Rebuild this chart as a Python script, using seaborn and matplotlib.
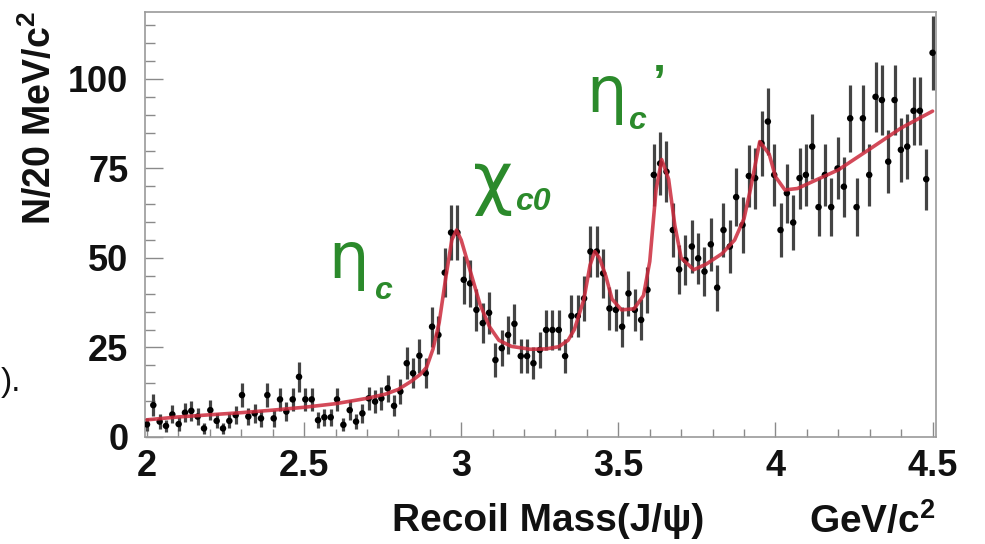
import numpy as np
import pandas as pd
import matplotlib
matplotlib.use("Agg")
import matplotlib.pyplot as plt
import seaborn as sns
from matplotlib.ticker import FixedLocator, FixedFormatter, MultipleLocator

# ---- data: events per 20 MeV/c^2 bin, recoil mass 2.0 - 4.5 GeV/c^2 ----
counts = [
    3.5, 8.9, 4.3, 3.1, 6.3, 3.6, 6.8, 7.3, 5.7, 2.4,
    7.5, 4.5, 2.4, 4.5, 6.1, 11.7, 5.7, 6.6, 5.2, 11.7,
    5.2, 10.5, 7.1, 10.5, 16.8, 10.5, 10.5, 4.7, 5.5, 5.5,
    10.5, 3.4, 7.5, 4.3, 6.6, 10.8, 9.9, 10.8, 13.6, 8.7,
    12.7, 20.6, 17.8, 22.7, 17.8, 30.8, 28.5, 45.9, 57.1, 57.1,
    43.9, 42.9, 35.5, 31.8, 34.7, 21.5, 24.8, 28.5, 31.6, 22.6,
    22.6, 20.6, 24.3, 29.9, 29.9, 29.9, 22.6, 33.8, 33.8, 38.7,
    51.8, 51.8, 45.7, 35.9, 35.5, 30.8, 40.1, 35.5, 32.7, 41.1,
    73.2, 76.4, 74.1, 57.8, 46.8, 49.4, 53.2, 49.9, 46.2, 53.8,
    41.7, 57.8, 53.2, 67.0, 59.2, 72.9, 72.3, 82.0, 88.1, 73.2,
    57.8, 68.1, 59.9, 72.3, 73.2, 81.1, 64.2, 73.2, 64.2, 75.0,
    69.9, 89.0, 64.2, 89.0, 73.2, 95.0, 94.1, 76.9, 94.1, 80.2,
    81.1, 91.1, 91.1, 72.0, 107.3,
]
mass_min, mass_max = 2.0, 4.5

# ---- fit curve ----
fit_x = [2.00, 2.10, 2.20, 2.30, 2.40, 2.50, 2.60, 2.70, 2.76, 2.80,
         2.84, 2.87, 2.89, 2.91, 2.93, 2.95, 2.97, 2.985, 3.00, 3.02,
         3.04, 3.06, 3.09, 3.12, 3.16, 3.22, 3.27, 3.31, 3.34, 3.36,
         3.39, 3.41, 3.425, 3.44, 3.46, 3.48, 3.51, 3.55, 3.58, 3.60,
         3.62, 3.638, 3.66, 3.68, 3.70, 3.74, 3.78, 3.83, 3.87, 3.90,
         3.92, 3.95, 3.98, 4.00, 4.03, 4.07, 4.10, 4.20, 4.30, 4.40, 4.50]
fit_y = [4.8, 5.6, 6.2, 6.8, 7.5, 8.3, 9.3, 10.8, 12.0, 13.3,
         15.5, 17.5, 19.5, 24.5, 32.0, 44.0, 55.0, 57.8, 55.0, 49.0,
         43.0, 37.0, 30.8, 27.0, 25.3, 24.5, 24.6, 25.2, 27.0, 30.0,
         38.3, 48.0, 51.8, 50.0, 45.0, 38.5, 35.5, 35.8, 39.5, 49.0,
         69.0, 77.5, 72.0, 59.0, 50.0, 46.7, 48.3, 51.2, 55.0, 61.0,
         69.0, 82.5, 79.0, 72.7, 69.0, 69.4, 70.6, 74.6, 80.4, 86.3, 91.0]

x_ticks = [2.0, 2.5, 3.0, 3.5, 4.0, 4.5]
x_tick_labels = ["2", "2.5", "3", "3.5", "4", "4.5"]
y_ticks = [0, 25, 50, 75, 100]
y_tick_labels = ["0", "25", "50", "75", "100"]

mass = np.linspace(mass_min, mass_max, len(counts))
df = pd.DataFrame({"mass": mass, "counts": counts, "err": np.sqrt(counts)})
fit_df = pd.DataFrame({"x": fit_x, "y": fit_y})

sns.set_theme(style="white")
plt.rcParams["font.family"] = ["Liberation Sans", "DejaVu Sans"]
plt.rcParams["mathtext.fontset"] = "custom"
plt.rcParams["mathtext.rm"] = "Liberation Sans"
plt.rcParams["mathtext.bf"] = "Liberation Sans:bold"
plt.rcParams["mathtext.it"] = "Liberation Sans:italic"

fig = plt.figure(figsize=(9.85, 5.44), dpi=100)
ax = fig.add_axes([0.1472, 0.1967, 0.8034, 0.7813])

ax.errorbar(df["mass"], df["counts"], yerr=df["err"], fmt="none",
            ecolor="#444444", elinewidth=2.3, capsize=0, zorder=2)
sns.scatterplot(data=df, x="mass", y="counts", ax=ax, color="black",
                s=22, marker="o", edgecolor="none", zorder=3, legend=False)
sns.lineplot(data=fit_df, x="x", y="y", ax=ax, color="#cc2a3c",
             linewidth=2.6, alpha=0.85, zorder=4, legend=False)

ax.set_xlim(1.9937, 4.512)
ax.set_ylim(0, 118.7)
ax.set_xlabel("")
ax.set_ylabel("")

ax.xaxis.set_major_locator(FixedLocator(x_ticks))
ax.xaxis.set_major_formatter(FixedFormatter(x_tick_labels))
ax.xaxis.set_minor_locator(MultipleLocator(0.1))
ax.yaxis.set_major_locator(FixedLocator(y_ticks))
ax.yaxis.set_major_formatter(FixedFormatter(y_tick_labels))
ax.yaxis.set_minor_locator(MultipleLocator(5))

ax.tick_params(axis="both", which="both", direction="in", color="#8a8a8a",
               width=1.0, bottom=True, left=True, top=False, right=False)
ax.tick_params(axis="y", which="major", length=13, pad=12)
ax.tick_params(axis="y", which="minor", length=7)
ax.tick_params(axis="x", which="major", length=11, pad=9)
ax.tick_params(axis="x", which="minor", length=6)
for lab in ax.get_xticklabels() + ax.get_yticklabels():
    lab.set_fontsize(26)
    lab.set_fontweight("bold")
    lab.set_color("#111111")

for sp in ax.spines.values():
    sp.set_color("#9a9a9a")
    sp.set_linewidth(1.2)

# axis titles
fig.text(40 / 985, 1 - 11 / 544, r"N/20 MeV/c$^{\mathbf{2}}$", rotation=90,
         ha="center", va="top", fontsize=27, fontweight="bold", color="#111111")
fig.text(548 / 985, 1 - 521 / 544, "Recoil Mass(J/\u03c8)", ha="center",
         va="center", fontsize=28, fontweight="bold", color="#111111")
fig.text(936 / 985, 1 - 521 / 544, r"GeV/c$^{\mathbf{2}}$", ha="right",
         va="center", fontsize=28, fontweight="bold", color="#111111")
fig.text(1 / 985, 1 - 383 / 544, ").", ha="left", va="center",
         fontsize=24, color="#111111")

# peak labels
green = "#2b8a2b"
greek = dict(color=green, family="DejaVu Sans")
sub = dict(fontsize=23, color=green, va="baseline", fontweight="bold",
           fontstyle="italic")
ax.text(2.578, 44.4, "\u03b7", va="baseline", fontsize=46, **greek)
ax.text(2.722, 38.5, "c", **sub)
ax.text(3.038, 71.0, "\u03c7", va="center", fontsize=50, **greek)
ax.text(3.170, 63.4, "c0", **sub)
ax.text(3.398, 90.7, "\u03b7", va="baseline", fontsize=46, **greek)
ax.text(3.530, 86.0, "c", **sub)
ax.text(3.609, 95.0, "\u2019", fontsize=34, color=green, va="baseline",
        fontweight="bold")

fig.savefig("out.png", dpi=100)
